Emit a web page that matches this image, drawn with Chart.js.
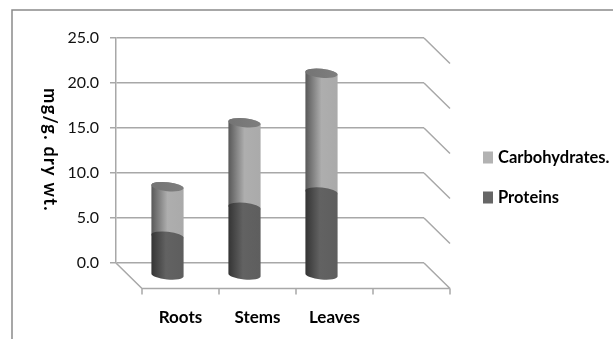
<!DOCTYPE html>
<html>
<head>
<meta charset="utf-8">
<style>
  html, body { margin: 0; padding: 0; background: #fff; }
  canvas { display: block; }
</style>
<script src="https://cdn.jsdelivr.net/npm/chart.js@4"></script>
</head>
<body>
<canvas id="chart" width="613" height="339"></canvas>
<script>
const categories = ['Roots', 'Stems', 'Leaves', ''];
const proteins = [4.4, 7.6, 9.3, null];
const carbohydrates = [5.5, 9.4, 13.2, null];
const yTicks = [0, 5, 10, 15, 20, 25];
const yTitle = 'mg/g. dry wt.';

// Depth of the fake 3D floor, in pixels
const DEPTH_X = 26;
const DEPTH_Y = 25.5;
const GRID_COLOR = '#a8a8a8';
const LABEL_FONT = 'Lato, sans-serif';

function cylinderGradient(ctx, left, right, stops) {
    const g = ctx.createLinearGradient(left, 0, right, 0);
    stops.forEach(([at, color]) => g.addColorStop(at, color));
    return g;
}

const darkStops = [[0, '#343434'], [0.45, '#626262'], [1, '#5e5e5e']];
const lightStops = [[0, '#585858'], [0.5, '#aeaeae'], [1, '#aaaaaa']];

// Replaces the flat stacked rectangles with shaded cylinders
const cylinders = {
    id: 'cylinders',
    beforeDatasetDraw(chart, args) {
        const ctx = chart.ctx;
        const meta = args.meta;
        const values = chart.data.datasets[args.index].data;
        const stops = args.index === 0 ? darkStops : lightStops;
        const tilt = 0.1;
        meta.data.forEach((bar, i) => {
            if (values[i] === null) return;
            const cx = bar.x + DEPTH_X / 2;
            const top = bar.y + DEPTH_Y / 2;
            const base = bar.base + DEPTH_Y / 2;
            const rx = bar.width / 2;
            const ry = 4.5;
            ctx.save();
            ctx.fillStyle = cylinderGradient(ctx, cx - rx, cx + rx, stops);
            ctx.beginPath();
            ctx.ellipse(cx, base, rx, ry, tilt, 0, Math.PI);
            ctx.ellipse(cx, top, rx, ry, tilt, Math.PI, Math.PI * 2);
            ctx.closePath();
            ctx.fill();
            if (args.index === 1) {
                ctx.fillStyle = cylinderGradient(ctx, cx - rx, cx + rx, [[0, '#747474'], [1, '#7e7e7e']]);
                ctx.beginPath();
                ctx.ellipse(cx, top, rx, ry, tilt, 0, Math.PI * 2);
                ctx.fill();
            }
            ctx.restore();
        });
        return false;
    }
};

// Outer frame, floor, side wall lines, front ticks, axis title and legend
const chartDressing = {
    id: 'chartDressing',
    beforeDraw(chart) {
        const ctx = chart.ctx;
        ctx.save();
        ctx.strokeStyle = '#8a8a8a';
        ctx.lineWidth = 1.5;
        ctx.beginPath();
        ctx.moveTo(12, chart.height);
        ctx.lineTo(12, 10);
        ctx.lineTo(chart.width, 10);
        ctx.stroke();
        ctx.restore();
    },
    beforeDatasetsDraw(chart) {
        const ctx = chart.ctx;
        const { left, right } = chart.chartArea;
        const x = chart.scales.x;
        const y = chart.scales.y;
        const zero = y.getPixelForValue(0);
        ctx.save();
        ctx.strokeStyle = GRID_COLOR;
        ctx.lineWidth = 1.5;
        ctx.beginPath();
        yTicks.forEach(v => {
            const py = y.getPixelForValue(v);
            ctx.moveTo(right, py);
            ctx.lineTo(right + DEPTH_X, py + DEPTH_Y);
        });
        ctx.moveTo(left, zero);
        ctx.lineTo(left + DEPTH_X, zero + DEPTH_Y);
        ctx.lineTo(right + DEPTH_X, zero + DEPTH_Y);
        const step = (right - left) / categories.length;
        categories.forEach((c, i) => {
            const px = x.getPixelForValue(i) - step / 2 + DEPTH_X;
            ctx.moveTo(px, zero + DEPTH_Y);
            ctx.lineTo(px, zero + DEPTH_Y + 6);
        });
        ctx.moveTo(right + DEPTH_X, zero + DEPTH_Y);
        ctx.lineTo(right + DEPTH_X, zero + DEPTH_Y + 6);
        ctx.stroke();
        ctx.restore();
    },
    afterDraw(chart) {
        const ctx = chart.ctx;
        ctx.save();
        ctx.fillStyle = '#000';
        ctx.textBaseline = 'middle';

        // legend, last series on top
        ctx.font = 'bold 16.5px ' + LABEL_FONT;
        chart.data.datasets.slice().reverse().forEach((ds, i) => {
            const rowY = 157.5 + i * 40;
            ctx.fillStyle = ds.backgroundColor;
            ctx.fillRect(483, rowY - 6, 10, 12);
            ctx.fillStyle = '#000';
            ctx.fillText(ds.label, 498, rowY);
        });

        ctx.translate(50, 150);
        ctx.rotate(Math.PI / 2);
        ctx.font = 'bold 18px ' + LABEL_FONT;
        ctx.letterSpacing = '1.3px';
        ctx.textAlign = 'center';
        ctx.fillText(yTitle, 0, 0);
        ctx.restore();
    }
};

new Chart(document.getElementById('chart'), {
    type: 'bar',
    data: {
        labels: categories,
        datasets: [
            { label: 'Proteins', data: proteins, backgroundColor: '#666666' },
            { label: 'Carbohydrates.', data: carbohydrates, backgroundColor: '#b2b2b2' }
        ]
    },
    plugins: [chartDressing, cylinders],
    options: {
        responsive: false,
        animation: false,
        layout: { padding: { top: 38, right: 189 } },
        datasets: { bar: { categoryPercentage: 1, barPercentage: 0.42 } },
        plugins: {
            tooltip: { enabled: false },
            legend: { display: false }
        },
        scales: {
            x: {
                stacked: true,
                grid: { display: false },
                border: { display: false },
                afterFit: s => { s.height = 76; },
                ticks: {
                    labelOffset: DEPTH_X,
                    padding: 36.5,
                    maxRotation: 0,
                    color: '#000',
                    font: { family: LABEL_FONT, size: 17, weight: 'bold' }
                }
            },
            y: {
                stacked: true,
                min: 0,
                max: 25,
                afterFit: s => { s.width = 116; },
                afterBuildTicks: s => { s.ticks = yTicks.map(value => ({ value })); },
                grid: { color: GRID_COLOR, lineWidth: 1.5, tickLength: 6 },
                border: { color: GRID_COLOR, width: 1.5 },
                ticks: {
                    padding: 11,
                    color: '#111',
                    font: { family: LABEL_FONT, size: 16 },
                    callback: v => v.toFixed(1)
                }
            }
        }
    }
});
</script>
</body>
</html>
